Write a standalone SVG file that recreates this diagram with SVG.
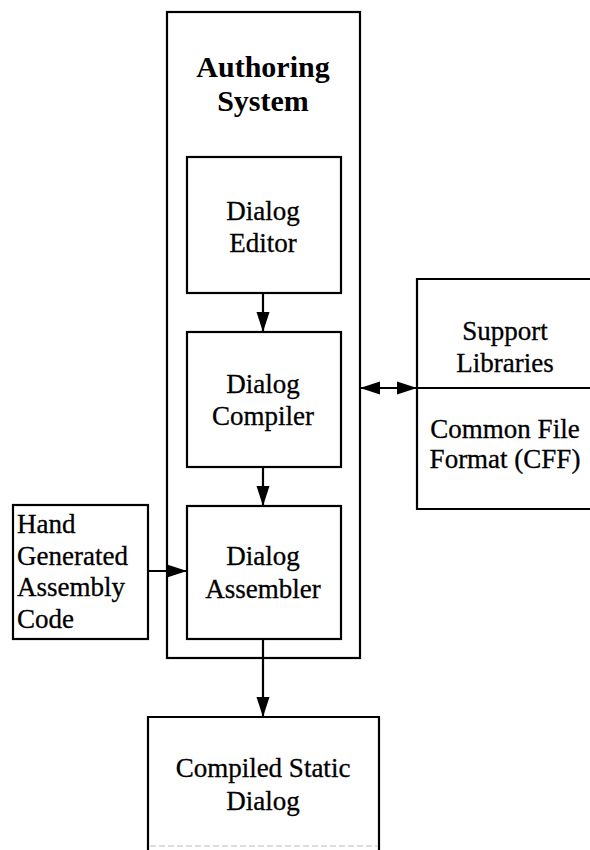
<svg xmlns="http://www.w3.org/2000/svg" width="590" height="850" viewBox="0 0 590 850">
<style>
.box{fill:none;stroke:#000;stroke-width:2.2}
.t{font-family:"Liberation Serif","Times New Roman",serif;font-size:27px;fill:#000;stroke:#000;stroke-width:0.3;text-anchor:middle}
.tl{font-family:"Liberation Serif","Times New Roman",serif;font-size:27px;fill:#000;stroke:#000;stroke-width:0.3}
.tb{font-family:"Liberation Serif","Times New Roman",serif;font-size:30px;font-weight:bold;fill:#000;text-anchor:middle}
.c{stroke:#000;stroke-width:2.2;fill:none}
</style>
<defs>
<marker id="ah" markerUnits="userSpaceOnUse" markerWidth="20" markerHeight="14" refX="20" refY="7" orient="auto-start-reverse">
<path d="M0,0.5 L20,7 L0,13.5 z" fill="#000"/>
</marker>
</defs>
<rect width="590" height="850" fill="#fff"/>
<g id="authoring">
<rect class="box" x="167" y="12" width="193" height="646"/>
<text class="tb" x="263" y="77">Authoring</text>
<text class="tb" x="263" y="111">System</text>
</g>
<g id="editor">
<rect class="box" x="187" y="157" width="154" height="136"/>
<text class="t" x="263" y="220">Dialog</text>
<text class="t" x="263" y="252">Editor</text>
</g>
<g id="compiler">
<rect class="box" x="187" y="332" width="154" height="135"/>
<text class="t" x="263" y="393">Dialog</text>
<text class="t" x="263" y="425">Compiler</text>
</g>
<g id="assembler">
<rect class="box" x="187" y="506" width="154" height="133"/>
<text class="t" x="263" y="565">Dialog</text>
<text class="t" x="263" y="598">Assembler</text>
</g>
<g id="hand">
<rect class="box" x="13" y="505" width="135" height="134"/>
<text class="tl" x="17" y="533">Hand</text>
<text class="tl" x="17" y="565">Generated</text>
<text class="tl" x="17" y="596">Assembly</text>
<text class="tl" x="17" y="628">Code</text>
</g>
<g id="support">
<path class="box" d="M592,279 H417 V509 H592"/>
<line class="c" x1="417" y1="388" x2="592" y2="388"/>
<text class="t" x="505" y="340">Support</text>
<text class="t" x="505" y="372">Libraries</text>
<text class="t" x="505" y="438">Common File</text>
<text class="t" x="505" y="468">Format (CFF)</text>
</g>
<g id="compiled">
<path class="box" d="M148,852 V717 H379 V852"/>
<line x1="150" y1="846" x2="377" y2="846" stroke="#bbb" stroke-width="1" stroke-dasharray="6 3"/>
<text class="t" x="263" y="777">Compiled Static</text>
<text class="t" x="263" y="810">Dialog</text>
</g>
<g id="connectors">
<line class="c" x1="263" y1="293" x2="263" y2="332" marker-end="url(#ah)"/>
<line class="c" x1="263" y1="467" x2="263" y2="506" marker-end="url(#ah)"/>
<line class="c" x1="360" y1="388" x2="417" y2="388" marker-start="url(#ah)" marker-end="url(#ah)"/>
<line class="c" x1="148" y1="571" x2="187" y2="571" marker-end="url(#ah)"/>
<line class="c" x1="263" y1="639" x2="263" y2="717" marker-end="url(#ah)"/>
</g>
</svg>
